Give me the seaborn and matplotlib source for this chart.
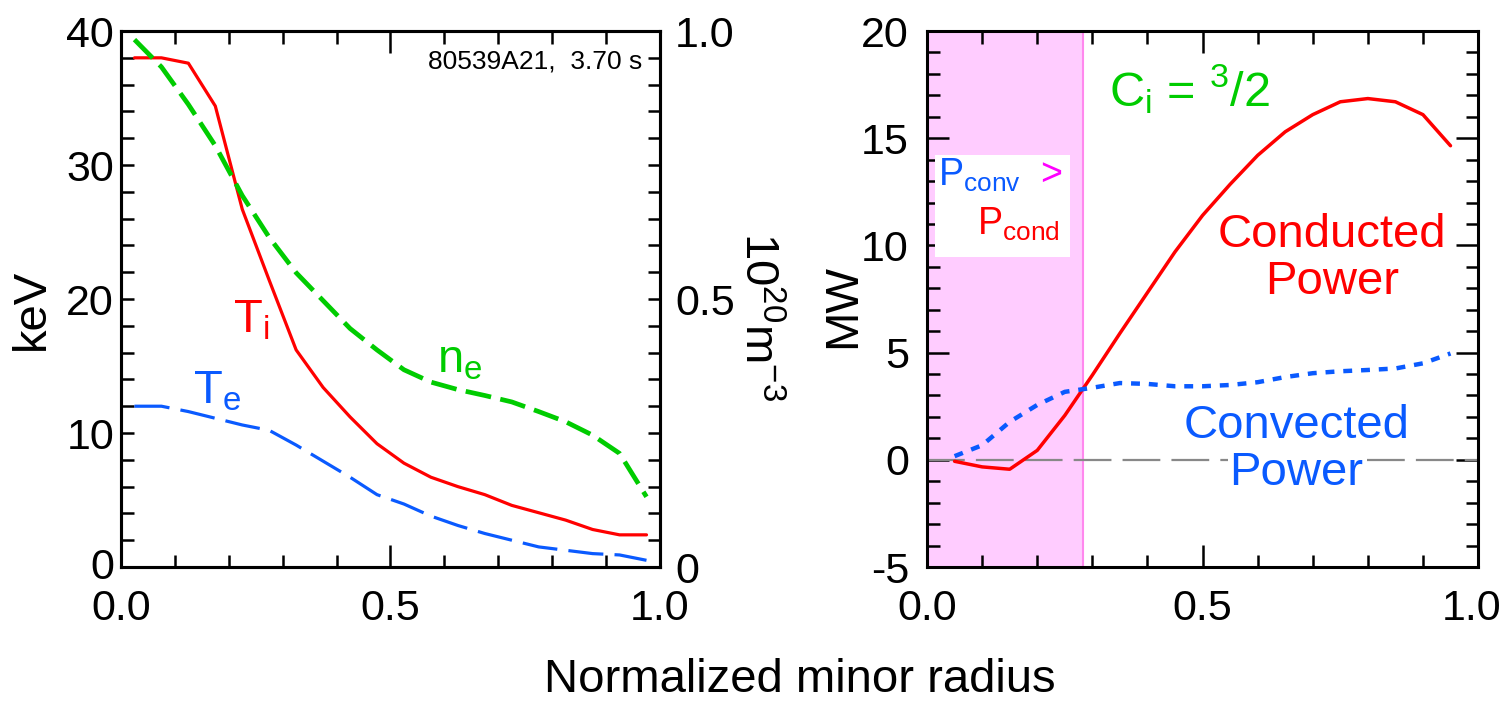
import numpy as np
import pandas as pd
import matplotlib
matplotlib.use("Agg")
import matplotlib.pyplot as plt
from matplotlib.ticker import MultipleLocator, FixedLocator, FixedFormatter
from matplotlib.patches import Rectangle
from matplotlib.transforms import offset_copy
import seaborn as sns

# ---------------- data ----------------
rho_left = [0.025, 0.075, 0.125, 0.175, 0.225, 0.275, 0.325, 0.375, 0.425, 0.475,
            0.525, 0.575, 0.625, 0.675, 0.725, 0.775, 0.825, 0.875, 0.925, 0.975]
Ti_keV = [38.0, 38.0, 37.6, 34.4, 26.7, 21.4, 16.2, 13.4, 11.2, 9.2,
          7.75, 6.7, 6.0, 5.4, 4.6, 4.05, 3.5, 2.8, 2.4, 2.4]
Te_keV = [12.0, 12.0, 11.6, 11.1, 10.6, 10.2, 9.1, 7.9, 6.7, 5.4,
          4.7, 3.8, 3.1, 2.5, 2.0, 1.5, 1.25, 1.0, 0.9, 0.5]
ne_1e20 = [0.984, 0.933, 0.863, 0.786, 0.693, 0.615, 0.549, 0.497, 0.445, 0.405,
           0.368, 0.345, 0.331, 0.320, 0.308, 0.290, 0.271, 0.246, 0.212, 0.131]

rho_right = [0.05, 0.10, 0.15, 0.20, 0.25, 0.30, 0.35, 0.40, 0.45, 0.50,
             0.55, 0.60, 0.65, 0.70, 0.75, 0.80, 0.85, 0.90, 0.95]
P_cond_MW = [-0.07, -0.33, -0.44, 0.44, 2.07, 3.95, 5.9, 7.8, 9.7, 11.4,
             12.85, 14.2, 15.3, 16.1, 16.7, 16.85, 16.7, 16.1, 14.65]
P_conv_MW = [0.17, 0.68, 1.77, 2.56, 3.17, 3.36, 3.58, 3.54, 3.43, 3.43,
             3.49, 3.62, 3.86, 4.04, 4.13, 4.19, 4.26, 4.5, 4.96]

shade_edge = 0.283  # region where P_conv > P_cond

left_yticks = [0, 10, 20, 30, 40]
left_yticklabels = ["0", "10", "20", "30", "40"]
ne_ticks = [0, 0.5, 1.0]
ne_ticklabels = ["0", "0.5", "1.0"]
right_yticks = [-5, 0, 5, 10, 15, 20]
right_yticklabels = ["-5", "0", "5", "10", "15", "20"]
xticks = [0.0, 0.5, 1.0]
xticklabels = ["0.0", "0.5", "1.0"]

# ---------------- style ----------------
sns.set_style("white")
plt.rcParams["font.family"] = ["Liberation Sans", "DejaVu Sans"]
plt.rcParams["mathtext.fontset"] = "custom"
plt.rcParams["mathtext.rm"] = "Liberation Sans"
plt.rcParams["mathtext.it"] = "Liberation Sans:italic"
plt.rcParams["mathtext.bf"] = "Liberation Sans:bold"
plt.rcParams["axes.unicode_minus"] = False
for k in ("text.color", "axes.labelcolor", "xtick.color", "ytick.color",
          "xtick.labelcolor", "ytick.labelcolor", "axes.edgecolor"):
    plt.rcParams[k] = "black"

RED = "#ff0000"
GREEN = "#00cc00"
BLUE = "#0a5aff"
MAGENTA = "#ff00ff"
TICK_FS = 31
LAB_FS = 34

fig = plt.figure(figsize=(15.03, 7.02), dpi=100)
axL = fig.add_axes([0.0805, 0.1923, 0.3586, 0.7635])
axR = fig.add_axes([0.6168, 0.1923, 0.3666, 0.7635])

df_left = pd.DataFrame({"rho": rho_left, "Ti": Ti_keV, "Te": Te_keV, "ne": ne_1e20})
df_right = pd.DataFrame({"rho": rho_right, "cond": P_cond_MW, "conv": P_conv_MW})

# ---------------- left panel ----------------
sns.lineplot(data=df_left, x="rho", y="Ti", ax=axL, color=RED, lw=2.3, zorder=3)
sns.lineplot(data=df_left, x="rho", y="Te", ax=axL, color=BLUE, lw=2.3,
             linestyle=(0, (11, 3.5)), zorder=3)
axT = axL.twinx()
sns.lineplot(data=df_left, x="rho", y="ne", ax=axT, color=GREEN, lw=3.4,
             linestyle=(0, (5.5, 2.0)), zorder=3)

axL.set_xlim(0, 1)
axL.set_ylim(0, 40)
axT.set_ylim(0, 1.0)

for ax in (axL, axT, axR):
    for sp in ax.spines.values():
        sp.set_linewidth(2.2)
        sp.set_color("black")

axL.xaxis.set_major_locator(FixedLocator(xticks))
axL.xaxis.set_major_formatter(FixedFormatter(xticklabels))
axL.xaxis.set_minor_locator(MultipleLocator(0.1))
axL.yaxis.set_major_locator(FixedLocator(left_yticks))
axL.yaxis.set_major_formatter(FixedFormatter(left_yticklabels))
axL.yaxis.set_minor_locator(MultipleLocator(2))
axT.yaxis.set_major_locator(FixedLocator(ne_ticks))
axT.yaxis.set_major_formatter(FixedFormatter(ne_ticklabels))
axT.yaxis.set_minor_locator(MultipleLocator(0.05))

axL.tick_params(axis="x", which="both", direction="in", top=True, bottom=True,
                labelsize=TICK_FS, width=1.8, pad=16)
axL.tick_params(axis="x", which="major", length=16)
axL.tick_params(axis="x", which="minor", length=9)
axL.tick_params(axis="y", which="both", direction="in", left=True, right=False,
                labelsize=TICK_FS, width=1.8, length=9, pad=5)
axT.tick_params(axis="y", which="both", direction="in", right=True,
                labelsize=TICK_FS, width=1.8, length=9, pad=11)

axL.set_xlabel("")
axL.set_ylabel("keV", fontsize=LAB_FS)
axL.yaxis.set_label_coords(-0.165, 0.48)
axL.yaxis.label.set_va("center")
axT.set_ylabel(r"10$^{20}$m$^{-3}$", fontsize=LAB_FS, rotation=270)
axT.yaxis.set_label_coords(1.18, 0.468)
axT.yaxis.label.set_va("center")

axL.text(0.968, 37.2, "80539A21,  3.70 s", fontsize=19, ha="right", va="baseline",
         transform=axL.get_yaxis_transform())
axL.text(0.208, 17.5, r"T$_\mathrm{i}$", color=RED, fontsize=LAB_FS, va="baseline")
axL.text(0.134, 12.2, r"T$_\mathrm{e}$", color=BLUE, fontsize=LAB_FS, va="baseline")
axL.text(0.587, 14.5, r"n$_\mathrm{e}$", color=GREEN, fontsize=LAB_FS, va="baseline")

# ---------------- right panel ----------------
axR.axvspan(0, shade_edge, color="#ffccff", zorder=0, lw=0)
axR.axvline(shade_edge, color="#ff88ee", lw=1.5, zorder=1)
axR.add_patch(Rectangle((0.015, 9.47), 0.245, 4.73, facecolor="white",
                        edgecolor="none", zorder=1))
axR.axhline(0, color="#888888", lw=1.6, linestyle=(0, (17, 5)), zorder=1)

sns.lineplot(data=df_right, x="rho", y="cond", ax=axR, color=RED, lw=2.5, zorder=3)
sns.lineplot(data=df_right, x="rho", y="conv", ax=axR, color=BLUE, lw=3.2,
             linestyle=(0, (2.0, 2.0)), zorder=3)

axR.set_xlim(0, 1)
axR.set_ylim(-5, 20)
axR.xaxis.set_major_locator(FixedLocator(xticks))
axR.xaxis.set_major_formatter(FixedFormatter(xticklabels))
axR.xaxis.set_minor_locator(MultipleLocator(0.1))
axR.yaxis.set_major_locator(FixedLocator(right_yticks))
axR.yaxis.set_major_formatter(FixedFormatter(right_yticklabels))
axR.yaxis.set_minor_locator(MultipleLocator(1))
axR.tick_params(axis="both", which="both", direction="in", top=True, bottom=True,
                left=True, right=True, labelsize=TICK_FS, width=1.8)
axR.tick_params(axis="x", which="both", pad=16)
axR.tick_params(axis="y", which="both", pad=13)
axR.tick_params(which="major", length=16)
axR.tick_params(which="minor", length=9)
axR.set_xlabel("")
axR.set_ylabel("MW", fontsize=LAB_FS)
axR.yaxis.set_label_coords(-0.152, 0.487)
axR.yaxis.label.set_va("center")

axR.text(0.33, 16.5, r"C$_\mathrm{i}$ = $^\mathrm{3}$/2", color=GREEN, fontsize=35,
         va="baseline", zorder=4)
axR.text(0.02, 12.8, r"P$_\mathrm{conv}$", color=BLUE, fontsize=27, va="baseline", zorder=4)
axR.text(0.205, 12.8, ">", color=MAGENTA, fontsize=27, va="baseline", zorder=4)
axR.text(0.091, 10.5, r"P$_\mathrm{cond}$", color=RED, fontsize=27, va="baseline", zorder=4)
axR.text(0.735, 9.93, "Conducted", color=RED, fontsize=LAB_FS, ha="center", va="baseline", zorder=4)
axR.text(0.735, 7.74, "Power", color=RED, fontsize=LAB_FS, ha="center", va="baseline", zorder=4)
axR.text(0.67, 1.03, "Convected", color=BLUE, fontsize=LAB_FS, ha="center", va="baseline", zorder=4,
         bbox=dict(facecolor="white", edgecolor="none", pad=1))
axR.text(0.67, -1.17, "Power", color=BLUE, fontsize=LAB_FS, ha="center", va="baseline", zorder=4,
         bbox=dict(facecolor="white", edgecolor="none", pad=1))

fig.text(0.532, 0.014, "Normalized minor radius", fontsize=LAB_FS, ha="center", va="baseline")

# small label nudges: keep the last right-panel x label inside the figure,
# and lift the left-panel "0" so it does not touch "0.0"
fig.canvas.draw()
last = axR.xaxis.get_major_ticks()[-1].label1
last.set_transform(offset_copy(last.get_transform(), fig=fig, x=-6, y=0, units="dots"))
zero = axL.yaxis.get_major_ticks()[0].label1
zero.set_transform(offset_copy(zero.get_transform(), fig=fig, x=0, y=4, units="dots"))

fig.savefig("out.png", dpi=100)
